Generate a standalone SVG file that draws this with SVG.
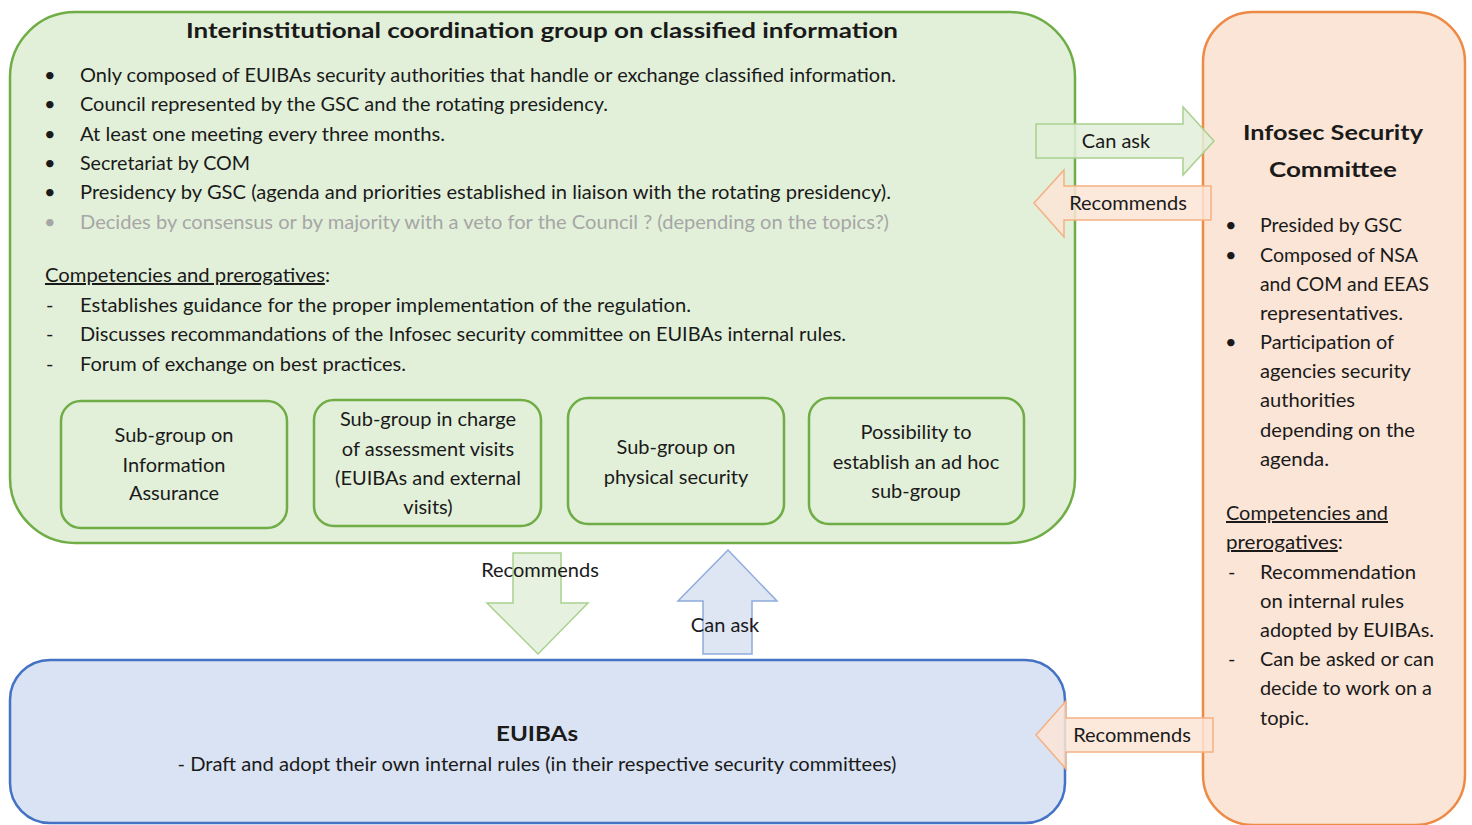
<svg xmlns="http://www.w3.org/2000/svg" width="1472" height="825" viewBox="0 0 1472 825">
<style>
text{font-family:Lato,"Liberation Sans","DejaVu Sans",sans-serif;fill:#1a1a1a;font-size:20px}
.b{font-weight:bold}
.c{text-anchor:middle}
.g{fill:#a6a6a6}
.u{text-decoration:underline}
.gbox{fill:#e2f0d9;stroke:#70ad47;stroke-width:2.5}
.sub{fill:#e2f0d9;stroke:#70ad47;stroke-width:2.5}
.obox{fill:#fbe5d6;stroke:#ed8a45;stroke-width:2.5}
.bbox{fill:#dae3f3;stroke:#4472c4;stroke-width:2.5}
.ga{fill:#e2f0d9;fill-opacity:.85;stroke:#a9d18e;stroke-width:1.5}
.oa{fill:#fbe5d6;fill-opacity:.85;stroke:#f4b183;stroke-width:1.5}
.ba{fill:#dae3f3;fill-opacity:.9;stroke:#8faadc;stroke-width:1.5}
</style>
<rect width="1472" height="825" fill="#ffffff"/>
<g id="icg">
<rect class="gbox" x="10" y="12" width="1065" height="531" rx="65"/>
<text class="b c" x="542" y="38" font-size="26" textLength="712" lengthAdjust="spacingAndGlyphs">Interinstitutional coordination group on classified information</text>
<text x="44" y="82">•</text><text x="80" y="82" textLength="816" lengthAdjust="spacingAndGlyphs">Only composed of EUIBAs security authorities that handle or exchange classified information.</text>
<text x="44" y="111">•</text><text x="80" y="111" textLength="528" lengthAdjust="spacingAndGlyphs">Council represented by the GSC and the rotating presidency.</text>
<text x="44" y="141">•</text><text x="80" y="141" textLength="365" lengthAdjust="spacingAndGlyphs">At least one meeting every three months.</text>
<text x="44" y="170">•</text><text x="80" y="170" textLength="170" lengthAdjust="spacingAndGlyphs">Secretariat by COM</text>
<text x="44" y="199">•</text><text x="80" y="199" textLength="811" lengthAdjust="spacingAndGlyphs">Presidency by GSC (agenda and priorities established in liaison with the rotating presidency).</text>
<text class="g" x="44" y="229">•</text><text class="g" x="80" y="229" textLength="809" lengthAdjust="spacingAndGlyphs">Decides by consensus or by majority with a veto for the Council ? (depending on the topics?)</text>
<text x="45" y="282" textLength="285" lengthAdjust="spacingAndGlyphs"><tspan class="u">Competencies and prerogatives</tspan>:</text>
<text x="46" y="312">-</text><text x="80" y="312" textLength="611" lengthAdjust="spacingAndGlyphs">Establishes guidance for the proper implementation of the regulation.</text>
<text x="46" y="341">-</text><text x="80" y="341" textLength="766" lengthAdjust="spacingAndGlyphs">Discusses recommandations of the Infosec security committee on EUIBAs internal rules.</text>
<text x="46" y="371">-</text><text x="80" y="371" textLength="326" lengthAdjust="spacingAndGlyphs">Forum of exchange on best practices.</text>
</g>
<g id="sub-ia">
<rect class="sub" x="61" y="401" width="226" height="127" rx="20"/>
<text class="c" x="174" y="442">Sub-group on</text>
<text class="c" x="174" y="472">Information</text>
<text class="c" x="174" y="500">Assurance</text>
</g>
<g id="sub-visits">
<rect class="sub" x="314" y="400" width="227" height="126" rx="20"/>
<text class="c" x="428" y="426">Sub-group in charge</text>
<text class="c" x="428" y="456">of assessment visits</text>
<text class="c" x="428" y="485">(EUIBAs and external</text>
<text class="c" x="428" y="514">visits)</text>
</g>
<g id="sub-physical">
<rect class="sub" x="568" y="398" width="216" height="126" rx="20"/>
<text class="c" x="676" y="454">Sub-group on</text>
<text class="c" x="676" y="484">physical security</text>
</g>
<g id="sub-adhoc">
<rect class="sub" x="809" y="398" width="215" height="126" rx="20"/>
<text class="c" x="916" y="439">Possibility to</text>
<text class="c" x="916" y="469">establish an ad hoc</text>
<text class="c" x="916" y="498">sub-group</text>
</g>
<g id="infosec">
<rect class="obox" x="1203" y="12" width="262" height="813" rx="50"/>
<text class="b c" x="1333" y="140" font-size="28" textLength="180" lengthAdjust="spacingAndGlyphs">Infosec Security</text>
<text class="b c" x="1333" y="177" font-size="28" textLength="128" lengthAdjust="spacingAndGlyphs">Committee</text>
<text x="1225" y="232">•</text><text x="1260" y="232" textLength="142" lengthAdjust="spacingAndGlyphs">Presided by GSC</text>
<text x="1225" y="262">•</text><text x="1260" y="262" textLength="158" lengthAdjust="spacingAndGlyphs">Composed of NSA</text>
<text x="1260" y="291" textLength="169" lengthAdjust="spacingAndGlyphs">and COM and EEAS</text>
<text x="1260" y="320" textLength="143" lengthAdjust="spacingAndGlyphs">representatives.</text>
<text x="1225" y="349">•</text><text x="1260" y="349" textLength="134" lengthAdjust="spacingAndGlyphs">Participation of</text>
<text x="1260" y="378" textLength="151" lengthAdjust="spacingAndGlyphs">agencies security</text>
<text x="1260" y="407" textLength="95" lengthAdjust="spacingAndGlyphs">authorities</text>
<text x="1260" y="437" textLength="155" lengthAdjust="spacingAndGlyphs">depending on the</text>
<text x="1260" y="466" textLength="69" lengthAdjust="spacingAndGlyphs">agenda.</text>
<text class="u" x="1226" y="520" textLength="162" lengthAdjust="spacingAndGlyphs">Competencies and</text>
<text x="1226" y="549" textLength="117" lengthAdjust="spacingAndGlyphs"><tspan class="u">prerogatives</tspan>:</text>
<text x="1228" y="579">-</text><text x="1260" y="579" textLength="156" lengthAdjust="spacingAndGlyphs">Recommendation</text>
<text x="1260" y="608" textLength="144" lengthAdjust="spacingAndGlyphs">on internal rules</text>
<text x="1260" y="637" textLength="174" lengthAdjust="spacingAndGlyphs">adopted by EUIBAs.</text>
<text x="1228" y="666">-</text><text x="1260" y="666" textLength="174" lengthAdjust="spacingAndGlyphs">Can be asked or can</text>
<text x="1260" y="695" textLength="172" lengthAdjust="spacingAndGlyphs">decide to work on a</text>
<text x="1260" y="725" textLength="49" lengthAdjust="spacingAndGlyphs">topic.</text>
</g>
<g id="euibas">
<rect class="bbox" x="10" y="660" width="1055" height="163" rx="40"/>
<text class="b c" x="537" y="741" font-size="27" textLength="82" lengthAdjust="spacingAndGlyphs">EUIBAs</text>
<text class="c" x="537" y="771" textLength="719" lengthAdjust="spacingAndGlyphs">- Draft and adopt their own internal rules (in their respective security committees)</text>
</g>
<g id="connectors">
<path class="ga" d="M1036,124 H1183 V107 L1214,141 L1183,175 V158 H1036 Z"/>
<text class="c" x="1116" y="148">Can ask</text>
<path class="oa" d="M1211,186 H1064 V170 L1034,203 L1064,237 V220 H1211 Z"/>
<text class="c" x="1128" y="210">Recommends</text>
<path class="oa" d="M1213,718 H1066 V701 L1036,735 L1066,769 V752 H1213 Z"/>
<text class="c" x="1132" y="742">Recommends</text>
<path class="ga" d="M513,553 H561 V603 H588 L538,654 L487,603 H513 Z"/>
<text class="c" x="540" y="577">Recommends</text>
<path class="ba" d="M703,654 V601 H678 L728,550 L777,601 H752 V654 Z"/>
<text class="c" x="725" y="632">Can ask</text>
</g>
</svg>
